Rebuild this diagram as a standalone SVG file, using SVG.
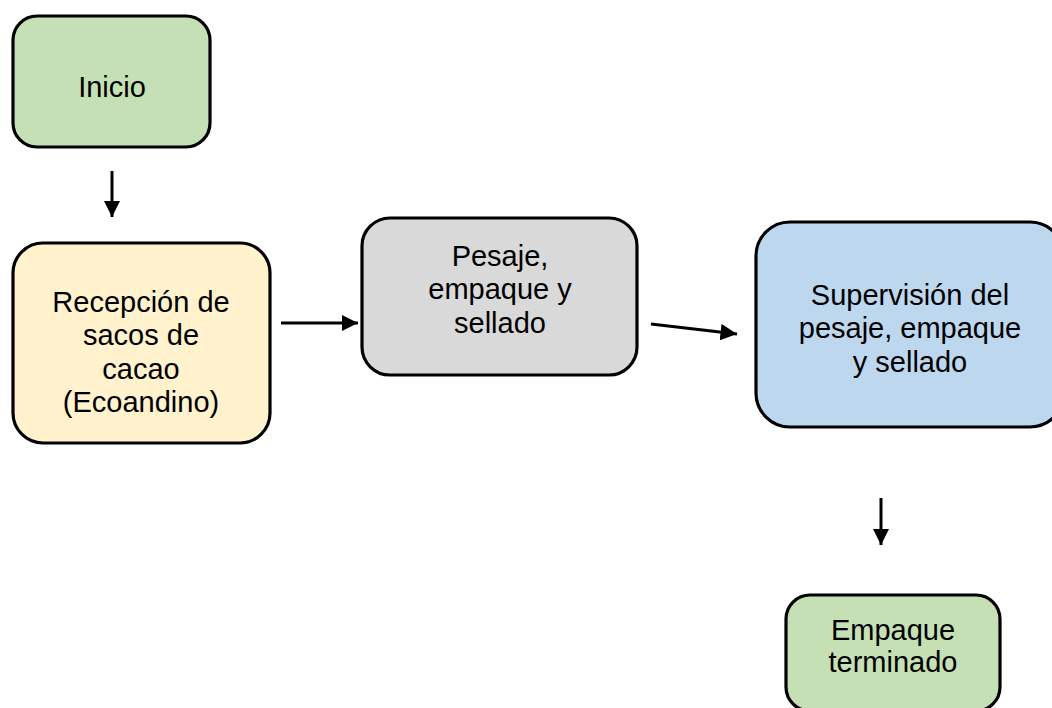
<svg xmlns="http://www.w3.org/2000/svg" width="1052" height="708" viewBox="0 0 1052 708">
<defs>
<marker id="ah" viewBox="0 0 10 10" refX="10" refY="5" markerWidth="5.5" markerHeight="5.5" markerUnits="strokeWidth" orient="auto">
<path d="M0,0 L10,5 L0,10 Z" fill="#000"/>
</marker>
</defs>
<style>
.box{stroke:#000;stroke-width:3.2}
.t{font-family:"Liberation Sans",Arial,sans-serif;font-size:29px;fill:#000;text-anchor:middle}
.c{stroke:#000;stroke-width:3;fill:none;marker-end:url(#ah)}
</style>
<rect width="1052" height="708" fill="#fff"/>
<g id="inicio">
<rect class="box" x="13" y="16" width="197" height="131" rx="24" fill="#c5e0b4"/>
<text class="t" x="112" y="97">Inicio</text>
</g>
<g id="recepcion">
<rect class="box" x="13" y="243" width="257" height="200" rx="30" fill="#fff2cc"/>
<text class="t" x="141" y="312">Recepción de</text>
<text class="t" x="141" y="345">sacos de</text>
<text class="t" x="141" y="379">cacao</text>
<text class="t" x="141" y="412">(Ecoandino)</text>
</g>
<g id="pesaje">
<rect class="box" x="362" y="218" width="275" height="157" rx="28" fill="#d9d9d9"/>
<text class="t" x="500" y="266">Pesaje,</text>
<text class="t" x="500" y="299">empaque y</text>
<text class="t" x="500" y="333">sellado</text>
</g>
<g id="supervision">
<rect class="box" x="756" y="222" width="308" height="205" rx="34" fill="#bdd7ee"/>
<text class="t" x="910" y="305">Supervisión del</text>
<text class="t" x="910" y="338">pesaje, empaque</text>
<text class="t" x="910" y="372">y sellado</text>
</g>
<g id="terminado">
<rect class="box" x="786" y="595" width="214" height="116" rx="24" fill="#c5e0b4"/>
<text class="t" x="893" y="640">Empaque</text>
<text class="t" x="893" y="672">terminado</text>
</g>
<g id="connectors">
<line class="c" x1="112" y1="171" x2="112" y2="217"/>
<line class="c" x1="281" y1="323" x2="358" y2="323"/>
<line class="c" x1="651" y1="324" x2="737" y2="334"/>
<line class="c" x1="881" y1="498" x2="881" y2="545"/>
</g>
</svg>
